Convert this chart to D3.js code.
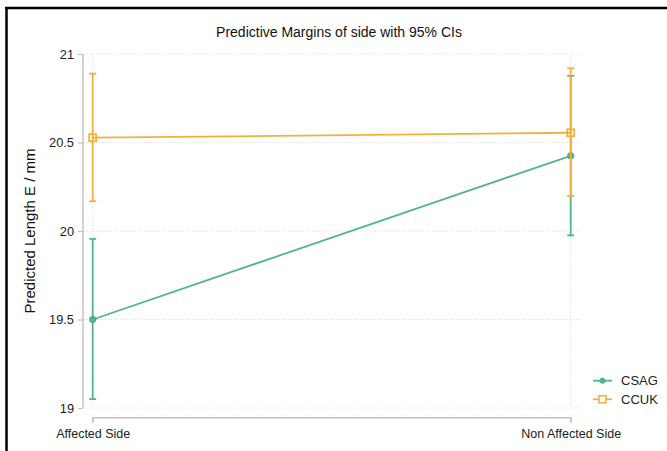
<!DOCTYPE html>
<html><head><meta charset="utf-8">
<script src="https://cdn.jsdelivr.net/npm/d3@7"></script>
<style>body{margin:0;background:#fff}svg{display:block;font-family:"Liberation Sans",Arial,sans-serif}</style>
</head><body>
<svg id="c" width="667" height="451"></svg>
<script>
const categories = ["Affected Side", "Non Affected Side"];
const seriesNames = ["CSAG", "CCUK"];
const csagMean = [19.50, 20.425];
const csagLow = [19.05, 19.975];
const csagHigh = [19.955, 20.877];
const ccukMean = [20.527, 20.555];
const ccukLow = [20.168, 20.198];
const ccukHigh = [20.889, 20.919];
const yTicks = [19, 19.5, 20, 20.5, 21];
const colors = ["#52b587", "#f2b13d"];

const series = [
  {name: seriesNames[0], mean: csagMean, low: csagLow, high: csagHigh, color: colors[0], shape: "circle"},
  {name: seriesNames[1], mean: ccukMean, low: ccukLow, high: ccukHigh, color: colors[1], shape: "square"}
];

const svg = d3.select("#c");
svg.append("line").attr("x1",6.5).attr("x2",6.5).attr("y1",7).attr("y2",451).attr("stroke","#000").attr("stroke-width",2.5);
svg.append("line").attr("x1",5).attr("x2",667).attr("y1",8).attr("y2",8).attr("stroke","#000").attr("stroke-width",2.5);

const x = d3.scalePoint().domain(categories).range([92.7, 570.7]);
const y = d3.scaleLinear().domain([19, 21]).range([408, 54]);

const grid = svg.append("g");
yTicks.forEach(t => grid.append("line").attr("x1",84).attr("x2",581).attr("y1",y(t)).attr("y2",y(t))
  .attr("stroke","#dcdcdc").attr("stroke-width",1).attr("stroke-dasharray","1,2"));
categories.forEach(c => grid.append("line").attr("x1",x(c)).attr("x2",x(c)).attr("y1",54).attr("y2",408)
  .attr("stroke","#dcdcdc").attr("stroke-width",1).attr("stroke-dasharray","1,2"));

const ya = svg.append("g").attr("transform","translate(83,0)")
  .call(d3.axisLeft(y).tickValues(yTicks).tickFormat(d => String(d)).tickSize(5).tickPadding(4));
ya.select(".domain").attr("stroke","#c4c4c4").attr("stroke-width",1.5).attr("d","M0,"+y(21)+"V"+y(19));
ya.selectAll(".tick line").attr("stroke","#c4c4c4").attr("stroke-width",1.2);
ya.selectAll(".tick text").attr("font-size",12.8).attr("fill","#222").attr("font-family","Liberation Sans, Arial, sans-serif");

const xa = svg.append("g").attr("transform","translate(0,417.7)")
  .call(d3.axisBottom(x).tickSize(5).tickPadding(6));
xa.select(".domain").attr("stroke","#c4c4c4").attr("stroke-width",1.5).attr("d","M"+x(categories[0])+",5V0H"+x(categories[1])+"V5");
xa.selectAll(".tick line").attr("stroke","#c4c4c4").attr("stroke-width",1.2);
xa.selectAll(".tick text").attr("font-size",12.5).attr("fill","#222").attr("font-family","Liberation Sans, Arial, sans-serif");

svg.append("text").attr("x",339).attr("y",37).attr("text-anchor","middle").attr("font-size",14).attr("fill","#111")
  .text("Predictive Margins of side with 95% CIs");
svg.append("text").attr("transform","translate(35,231) rotate(-90)").attr("text-anchor","middle").attr("font-size",15).attr("fill","#111")
  .text("Predicted Length E / mm");

const line = d3.line().x((d,i)=>x(categories[i])).y(d=>y(d));
series.forEach(s => {
  const g = svg.append("g");
  categories.forEach((c,i) => {
    g.append("line").attr("x1",x(c)).attr("x2",x(c)).attr("y1",y(s.low[i])).attr("y2",y(s.high[i])).attr("stroke",s.color).attr("stroke-width",1.8);
    [s.low[i], s.high[i]].forEach(v => g.append("line").attr("x1",x(c)-3.5).attr("x2",x(c)+3.5).attr("y1",y(v)).attr("y2",y(v)).attr("stroke",s.color).attr("stroke-width",1.8));
  });
  g.append("path").attr("d", line(s.mean)).attr("fill","none").attr("stroke",s.color).attr("stroke-width",1.8);
  s.mean.forEach((v,i) => {
    if (s.shape === "circle") g.append("circle").attr("cx",x(categories[i])).attr("cy",y(v)).attr("r",3.2).attr("fill",s.color).attr("stroke",d3.color(s.color).darker(0.3)).attr("stroke-width",0.8);
    else g.append("rect").attr("x",x(categories[i])-3.5).attr("y",y(v)-3.5).attr("width",7).attr("height",7).attr("fill","none").attr("stroke",s.color).attr("stroke-width",1.8);
  });
});

series.forEach((s,i) => {
  const ly = 380.7 + i*18.6;
  const g = svg.append("g");
  g.append("line").attr("x1",593).attr("x2",612).attr("y1",ly).attr("y2",ly).attr("stroke",s.color).attr("stroke-width",1.8);
  if (s.shape === "circle") g.append("circle").attr("cx",602.5).attr("cy",ly).attr("r",3).attr("fill",s.color);
  else g.append("rect").attr("x",599).attr("y",ly-3.5).attr("width",7).attr("height",7).attr("fill","#fff").attr("stroke",s.color).attr("stroke-width",1.6);
  g.append("text").attr("x",621).attr("y",ly+4.5).attr("font-size",13).attr("fill","#222").text(s.name);
});
</script>
</body></html>
